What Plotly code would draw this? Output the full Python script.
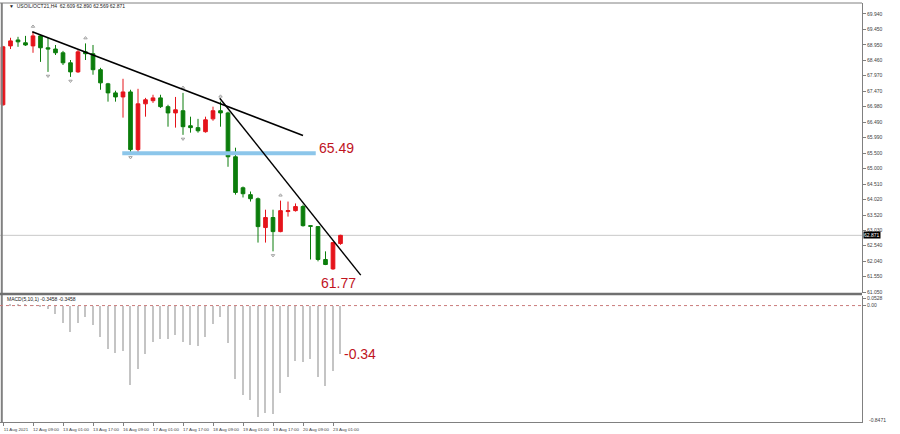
import plotly.graph_objects as go

# H4 bars, index 0 = left edge of the chart
bar_idx = list(range(46))
open_ = [67.04, 68.92, 69.11, 69.02, 68.92, 69.24, 68.86, 68.82, 68.70, 68.38,
         68.09, 68.73, 68.67, 68.16, 67.71, 67.42, 67.29, 67.45, 65.61, 67.07,
         67.17, 67.26, 66.98, 66.78, 66.85, 66.37, 66.31, 66.18, 66.59, 66.85,
         66.78, 65.38, 64.39, 64.17, 64.04, 63.12, 63.44, 62.99, 63.63, 63.66,
         63.79, 63.18, 63.15, 62.10, 61.80, 62.609]
high = [68.92, 69.18, 69.21, 69.24, 69.37, 69.27, 69.18, 68.95, 68.76, 68.47,
        68.79, 69.00, 68.95, 68.22, 67.74, 67.49, 67.87, 67.52, 67.55, 67.26,
        67.36, 67.36, 67.04, 67.29, 67.42, 66.66, 66.59, 66.66, 66.98, 67.14,
        66.82, 65.67, 64.43, 64.27, 64.08, 63.69, 63.69, 63.98, 63.95, 63.89,
        63.85, 63.19, 63.16, 62.36, 62.66, 62.890]
low = [67.01, 68.82, 68.89, 68.92, 68.70, 68.41, 68.09, 68.63, 68.31, 67.93,
       68.06, 68.47, 68.00, 67.52, 67.14, 67.14, 66.63, 65.49, 65.51, 66.66,
       67.10, 66.94, 66.34, 66.31, 66.08, 66.15, 66.15, 66.15, 66.53, 66.34,
       65.06, 64.17, 64.08, 63.95, 62.64, 62.64, 62.36, 62.97, 63.47, 63.63,
       63.15, 62.10, 62.04, 61.92, 61.77, 62.569]
close = [68.89, 69.08, 69.05, 68.95, 69.24, 68.86, 68.82, 68.70, 68.38, 68.09,
         68.73, 68.67, 68.16, 67.74, 67.42, 67.29, 67.45, 65.61, 67.07, 67.20,
         67.26, 66.98, 66.78, 66.88, 66.34, 66.31, 66.21, 66.56, 66.85, 66.78,
         65.38, 64.24, 64.20, 64.04, 63.15, 63.44, 62.99, 63.66, 63.66, 63.79,
         63.18, 63.16, 62.10, 61.94, 62.64, 62.871]
macd = [0.0, 0.012, 0.010, 0.005, 0.003, -0.004,
        -0.024, -0.059, -0.120, -0.186, -0.120, -0.084, -0.138, -0.220, -0.306, -0.339,
        -0.322, -0.561, -0.453, -0.346, -0.256, -0.234, -0.234, -0.208, -0.258, -0.281,
        -0.286, -0.220, -0.131, -0.084, -0.263, -0.521, -0.632, -0.668, -0.793, -0.764,
        -0.768, -0.621, -0.506, -0.394, -0.401, -0.382, -0.506, -0.573, -0.465, -0.3458]
macd_max, macd_min = 0.0528, -0.8471

fractal_up = [4, 11, 24, 29, 37]
fractal_down = [6, 9, 17, 24, 36]

# hand drawn objects (bar index, price)
trend1_x, trend1_y = [3.9, 40.0], [69.37, 66.06]
trend2_x, trend2_y = [28.9, 47.7], [67.25, 61.60]
support_x, support_level = [15.9, 41.7], 65.49
low_mark = 61.77

date_ticks = list(range(0, 46, 4))
date_labels = ["11 Aug 2021", "12 Aug 09:00", "13 Aug 01:00", "13 Aug 17:00",
               "16 Aug 09:00", "17 Aug 01:00", "17 Aug 17:00", "18 Aug 09:00",
               "19 Aug 01:00", "19 Aug 17:00", "20 Aug 09:00", "23 Aug 01:00"]
price_ticks = [69.94, 69.45, 68.95, 68.46, 67.97, 67.47, 66.98, 66.49, 65.99, 65.50,
               65.00, 64.51, 64.02, 63.52, 63.03, 62.54, 62.04, 61.55, 61.05]

RED = "#e5141b"
GREEN = "#0b7d0b"
LABEL_RED = "#c0141e"
FONT = "Liberation Sans"
H = 434.0


def py(px):
    # pixel row -> paper y
    return 1 - px / H


fig = go.Figure()

fig.add_trace(go.Candlestick(
    x=bar_idx, open=open_, high=high, low=low, close=close,
    increasing=dict(line=dict(color=RED, width=1), fillcolor=RED),
    decreasing=dict(line=dict(color=GREEN, width=1), fillcolor=GREEN),
    whiskerwidth=0, showlegend=False, xaxis="x", yaxis="y"))

# fractals
fig.add_trace(go.Scatter(
    x=fractal_up, y=[high[i] + 0.17 for i in fractal_up], mode="markers",
    marker=dict(symbol="triangle-up-open", size=3, color="#a0a0a0", line=dict(width=1)),
    showlegend=False, xaxis="x", yaxis="y"))
fig.add_trace(go.Scatter(
    x=fractal_down, y=[low[i] - 0.13 for i in fractal_down], mode="markers",
    marker=dict(symbol="triangle-down-open", size=3, color="#a0a0a0", line=dict(width=1)),
    showlegend=False, xaxis="x", yaxis="y"))

# trend lines and support level
fig.add_trace(go.Scatter(x=support_x, y=[support_level, support_level], mode="lines",
                         line=dict(color="#8cc6ea", width=4), showlegend=False,
                         xaxis="x", yaxis="y"))
fig.add_trace(go.Scatter(x=trend1_x, y=trend1_y, mode="lines",
                         line=dict(color="black", width=1.6), showlegend=False,
                         xaxis="x", yaxis="y"))
fig.add_trace(go.Scatter(x=trend2_x, y=trend2_y, mode="lines",
                         line=dict(color="black", width=1.4), showlegend=False,
                         xaxis="x", yaxis="y"))

# MACD histogram
fig.add_trace(go.Bar(x=bar_idx, y=macd, width=0.16, marker=dict(color="#c4c4c4", line=dict(width=0)),
                     showlegend=False, xaxis="x2", yaxis="y2"))

x_right = 862 / 900.0
x_range = [-0.4, (862 - 3) / 7.5]
tick_font = dict(family=FONT, size=5, color="#404040")

fig.update_layout(
    width=900, height=434,
    margin=dict(l=0, r=0, t=0, b=0),
    paper_bgcolor="white", plot_bgcolor="white",
    bargap=0,
    xaxis=dict(domain=[0, x_right], range=x_range, anchor="y", showticklabels=False,
               showgrid=False, zeroline=False, rangeslider=dict(visible=False),
               automargin=False, fixedrange=True),
    yaxis=dict(domain=[py(293), py(3)], range=[61.03, 70.29], side="right", anchor="x",
               tickvals=price_ticks, tickformat=".3f", ticks="outside", ticklen=3,
               tickcolor="#808080", showline=True, linecolor="#808080", linewidth=1,
               showgrid=False, zeroline=False, tickfont=tick_font, automargin=False),
    xaxis2=dict(domain=[0, x_right], range=x_range, anchor="y2", matches="x",
                tickvals=date_ticks, ticktext=date_labels, ticks="outside", ticklen=3,
                tickangle=0, tickcolor="#808080", ticklabelshift=13, showgrid=False,
                zeroline=False, showline=True, linecolor="#808080",
                tickfont=dict(family=FONT, size=4.4, color="#404040"), automargin=False),
    yaxis2=dict(domain=[py(422), py(296)], range=[-0.826, 0.068], side="right", anchor="x2",
                tickvals=[macd_max, 0.0], ticktext=["%.4f" % macd_max, "0.00"], ticks="outside",
                ticklen=3, tickcolor="#808080", showline=True, linecolor="#808080",
                showgrid=False, zeroline=False, tickfont=tick_font, automargin=False),
)

# frame, panel separator, current price line, MACD zero level
fig.add_shape(type="line", xref="paper", yref="paper", x0=0.002, x1=0.002, y0=py(423), y1=py(3),
              line=dict(color="#808080", width=2))
fig.add_shape(type="line", xref="paper", yref="paper", x0=0, x1=x_right, y0=py(3), y1=py(3),
              line=dict(color="#808080", width=1))
fig.add_shape(type="line", xref="paper", yref="paper", x0=0, x1=x_right, y0=py(294), y1=py(294),
              line=dict(color="#707070", width=2.5))
fig.add_shape(type="line", xref="x domain", yref="y", x0=0, x1=1, y0=close[-1], y1=close[-1],
              line=dict(color="#c8c8c8", width=1), layer="below")
fig.add_shape(type="line", xref="x2 domain", yref="y2", x0=0, x1=1, y0=0, y1=0,
              line=dict(color="#c97a7a", width=1, dash="dot"))

# texts
fig.add_annotation(xref="paper", yref="paper", x=0.008, y=py(6), xanchor="left", yanchor="middle",
                   text="\u25bc  USOIL/OCT21,H4  %.3f %.3f %.3f %.3f" % (open_[-1], high[-1], low[-1], close[-1]),
                   showarrow=False, font=dict(family=FONT, size=5, color="#202020"))
fig.add_annotation(xref="paper", yref="paper", x=0.005, y=py(299), xanchor="left", yanchor="middle",
                   text="MACD(5,10,1) %.4f %.4f" % (macd[-1], macd[-1]),
                   showarrow=False, font=dict(family=FONT, size=5, color="#202020"))
fig.add_annotation(xref="paper", yref="paper", x=x_right + 0.005, y=py(420), xanchor="left",
                   yanchor="middle", text="%.4f" % macd_min, showarrow=False,
                   font=tick_font)
fig.add_annotation(xref="paper", yref="y", x=x_right + 0.001, y=close[-1], xanchor="left",
                   yanchor="middle", text="%.3f" % close[-1], showarrow=False, bgcolor="black",
                   borderpad=0, font=dict(family=FONT, size=5, color="white"))
fig.add_annotation(x=44.4, y=support_level, yshift=5, xanchor="center", yanchor="middle",
                   text="%.2f" % support_level, showarrow=False,
                   font=dict(family=FONT, size=14, color=LABEL_RED))
fig.add_annotation(x=44.7, y=low_mark, yshift=-13, xanchor="center", yanchor="middle",
                   text="%.2f" % low_mark, showarrow=False,
                   font=dict(family=FONT, size=14, color=LABEL_RED))
fig.add_annotation(x=45, y=macd[-1], xref="x2", yref="y2", xshift=1, xanchor="left",
                   yanchor="middle", text="%.2f" % (int(macd[-1] * 100) / 100), showarrow=False,
                   font=dict(family=FONT, size=14, color=LABEL_RED))

fig.write_html("out.html", config={"displayModeBar": False},
               post_script="document.body.style.margin='0';")
